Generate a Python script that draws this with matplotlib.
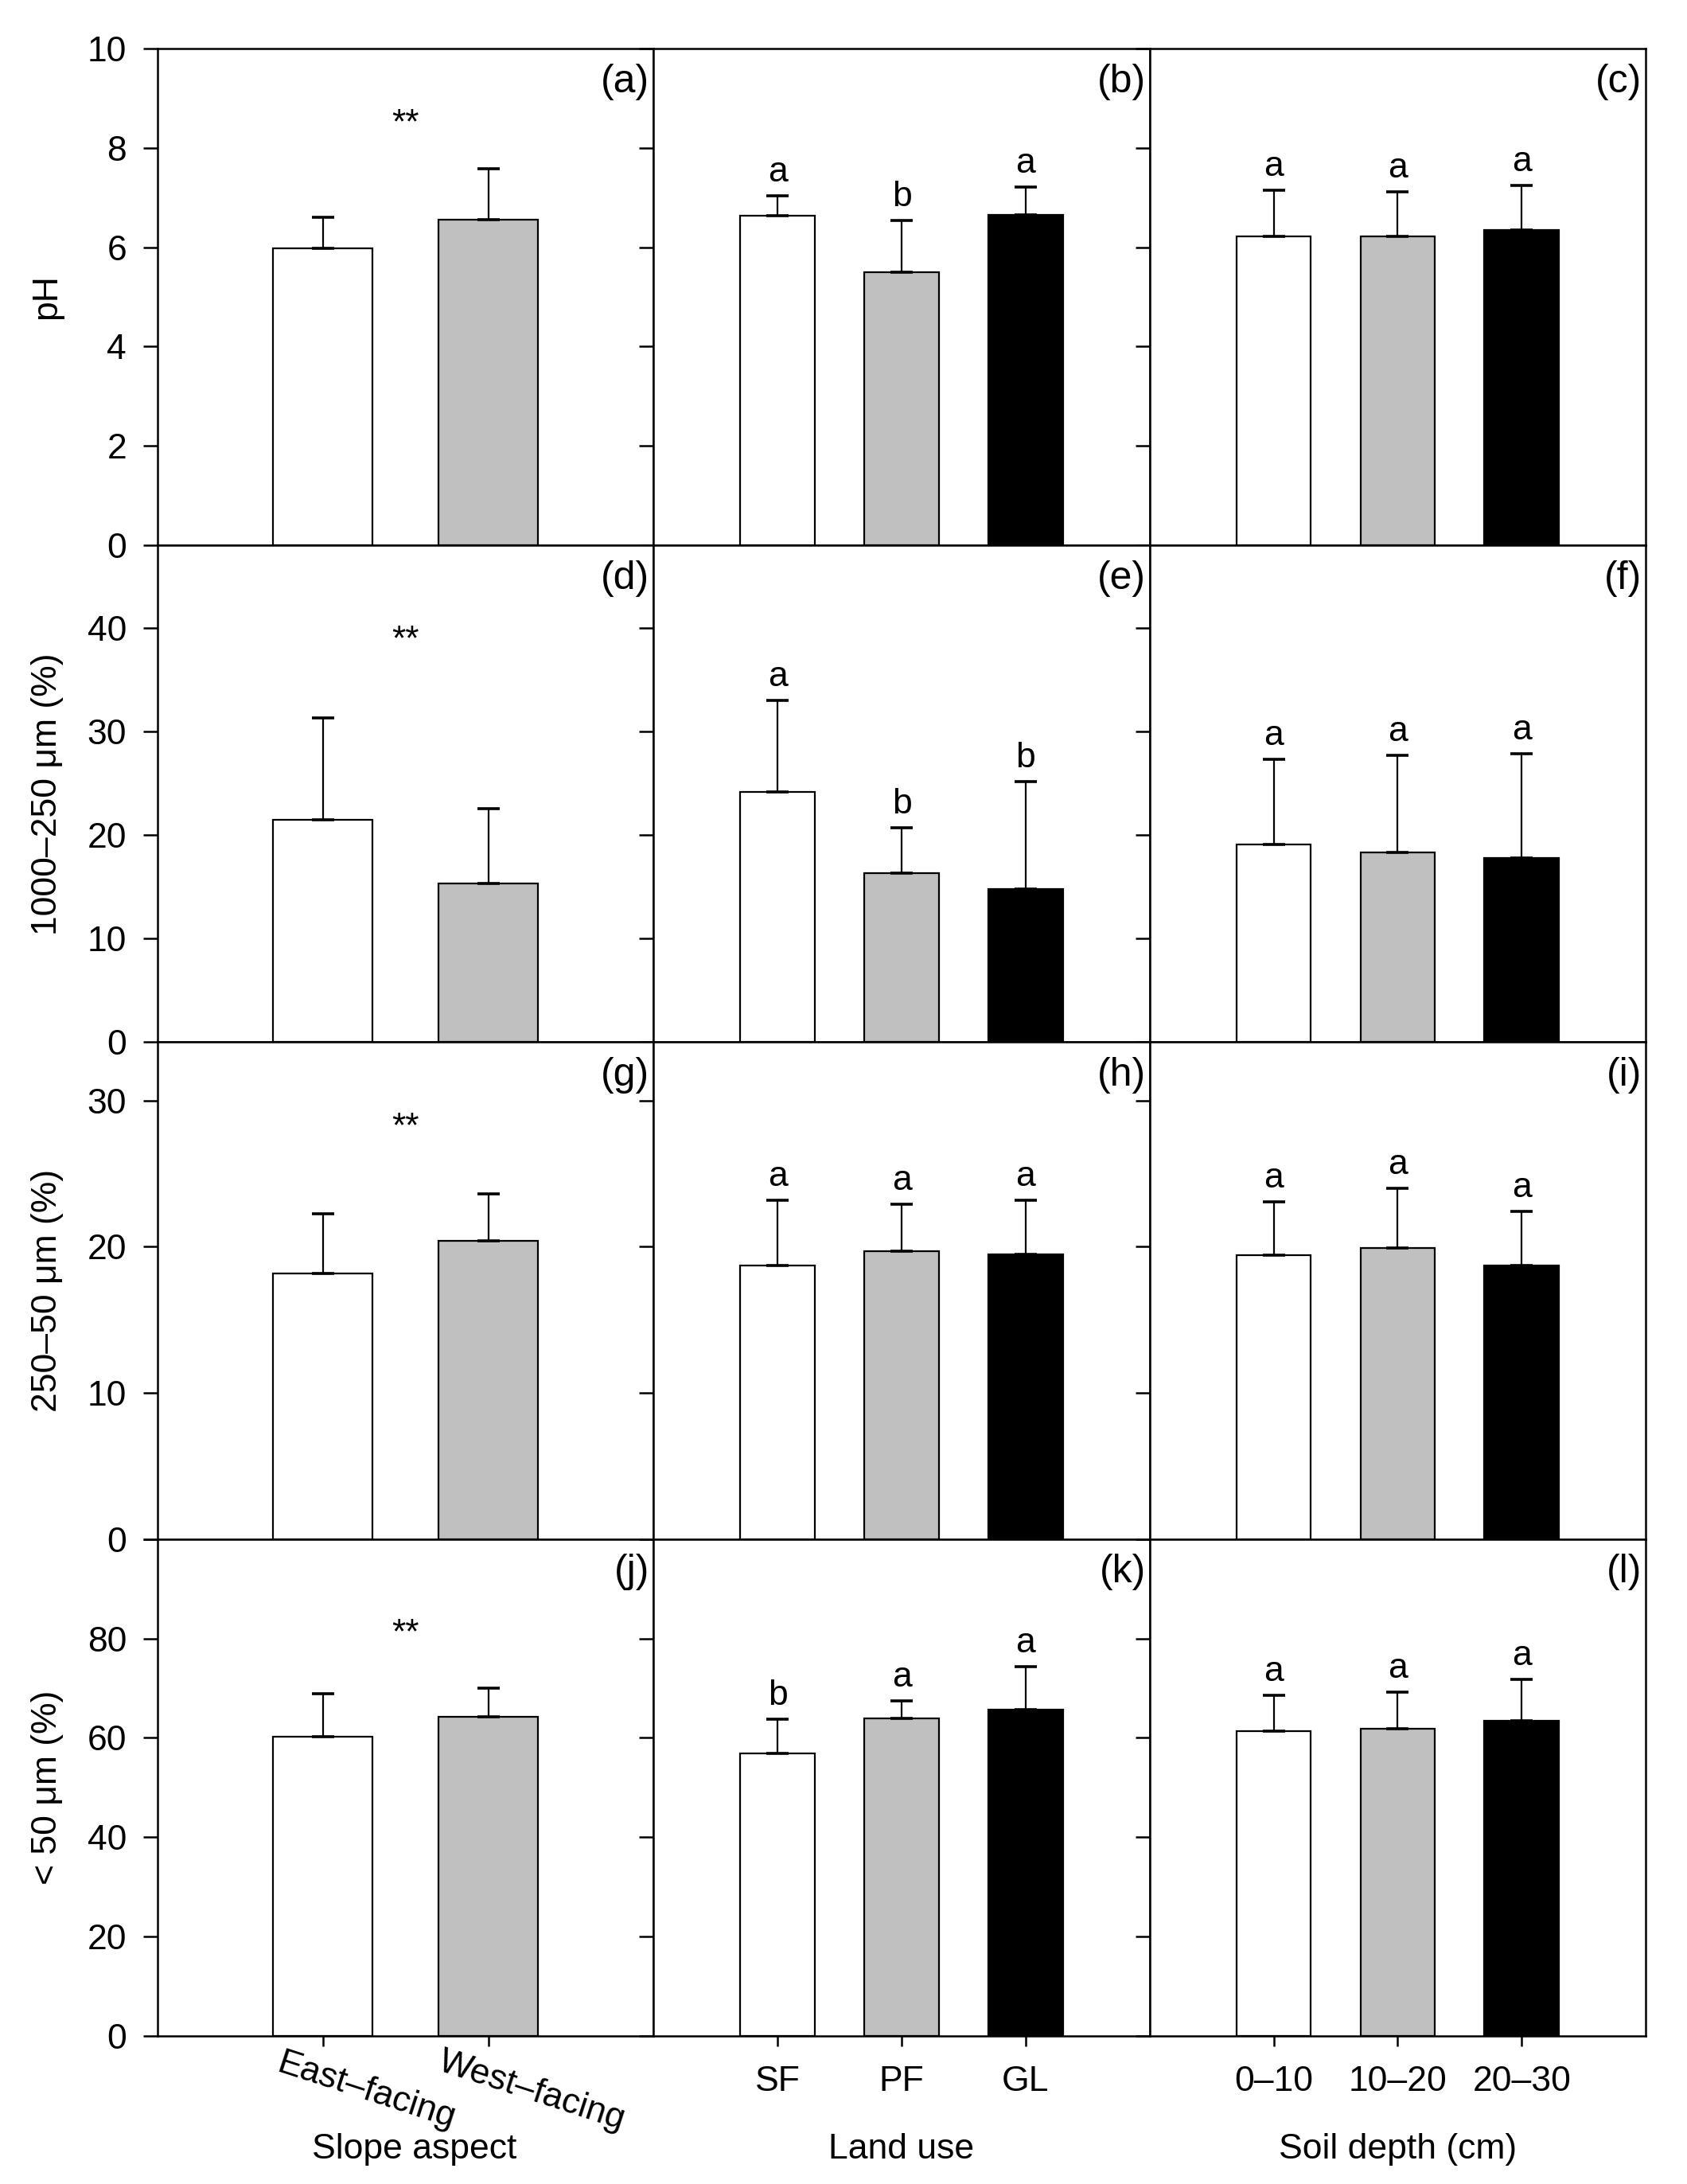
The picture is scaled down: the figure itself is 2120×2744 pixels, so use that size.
import matplotlib
matplotlib.use('Agg')
import matplotlib.pyplot as plt
from matplotlib.transforms import ScaledTranslation, blended_transform_factory
import numpy as np

plt.rcParams['font.family'] = ['Liberation Sans', 'DejaVu Sans']

# ---------------- data ----------------
SLOPE_CATS = ['East–facing', 'West–facing']
LANDUSE_CATS = ['SF', 'PF', 'GL']
DEPTH_CATS = ['0–10', '10–20', '20–30']

# pH
PH_SLOPE_MEAN = [5.97, 6.55]
PH_SLOPE_SD = [0.64, 1.03]
PH_LAND_MEAN = [6.63, 5.49, 6.65]
PH_LAND_SD = [0.41, 1.05, 0.56]
PH_LAND_SIG = ['a', 'b', 'a']
PH_DEPTH_MEAN = [6.22, 6.22, 6.34]
PH_DEPTH_SD = [0.93, 0.90, 0.91]
PH_DEPTH_SIG = ['a', 'a', 'a']

# 1000-250 um (%)
C_SLOPE_MEAN = [21.5, 15.3]
C_SLOPE_SD = [9.8, 7.3]
C_LAND_MEAN = [24.2, 16.3, 14.8]
C_LAND_SD = [8.8, 4.4, 10.4]
C_LAND_SIG = ['a', 'b', 'b']
C_DEPTH_MEAN = [19.1, 18.3, 17.8]
C_DEPTH_SD = [8.2, 9.4, 10.1]
C_DEPTH_SIG = ['a', 'a', 'a']

# 250-50 um (%)
M_SLOPE_MEAN = [18.2, 20.4]
M_SLOPE_SD = [4.05, 3.2]
M_LAND_MEAN = [18.7, 19.7, 19.5]
M_LAND_SD = [4.5, 3.2, 3.7]
M_LAND_SIG = ['a', 'a', 'a']
M_DEPTH_MEAN = [19.45, 19.9, 18.7]
M_DEPTH_SD = [3.6, 4.1, 3.7]
M_DEPTH_SIG = ['a', 'a', 'a']

# < 50 um (%)
F_SLOPE_MEAN = [60.2, 64.2]
F_SLOPE_SD = [8.7, 5.8]
F_LAND_MEAN = [56.9, 63.9, 65.7]
F_LAND_SD = [6.8, 3.5, 8.6]
F_LAND_SIG = ['b', 'a', 'a']
F_DEPTH_MEAN = [61.3, 61.8, 63.5]
F_DEPTH_SD = [7.3, 7.4, 8.3]
F_DEPTH_SIG = ['a', 'a', 'a']

Y_LABELS = ['pH', '1000–250 μm (%)', '250–50 μm (%)', '< 50 μm (%)']
X_LABELS = ['Slope aspect', 'Land use', 'Soil depth (cm)']
Y_TICKS = [[0, 2, 4, 6, 8, 10], [0, 10, 20, 30, 40], [0, 10, 20, 30],
           [0, 20, 40, 60, 80, 100]]
Y_TICKLABELS = [['0', '2', '4', '6', '8', '10'], ['0', '10', '20', '30', '40'],
                ['0', '10', '20', '30'], ['0', '20', '40', '60', '80', '']]
Y_MAX = [10, 48, 34, 100]
PANEL_TAGS = ['(a)', '(b)', '(c)', '(d)', '(e)', '(f)',
              '(g)', '(h)', '(i)', '(j)', '(k)', '(l)']

ROWS = [
    [(PH_SLOPE_MEAN, PH_SLOPE_SD, None), (PH_LAND_MEAN, PH_LAND_SD, PH_LAND_SIG),
     (PH_DEPTH_MEAN, PH_DEPTH_SD, PH_DEPTH_SIG)],
    [(C_SLOPE_MEAN, C_SLOPE_SD, None), (C_LAND_MEAN, C_LAND_SD, C_LAND_SIG),
     (C_DEPTH_MEAN, C_DEPTH_SD, C_DEPTH_SIG)],
    [(M_SLOPE_MEAN, M_SLOPE_SD, None), (M_LAND_MEAN, M_LAND_SD, M_LAND_SIG),
     (M_DEPTH_MEAN, M_DEPTH_SD, M_DEPTH_SIG)],
    [(F_SLOPE_MEAN, F_SLOPE_SD, None), (F_LAND_MEAN, F_LAND_SD, F_LAND_SIG),
     (F_DEPTH_MEAN, F_DEPTH_SD, F_DEPTH_SIG)],
]
CATS = [SLOPE_CATS, LANDUSE_CATS, DEPTH_CATS]

# ---------------- style ----------------
COLORS = ['white', '#c0c0c0', 'black']
FS = 16
STAR_FRAC = [0.83, 0.79, 0.81, 0.79]

fig = plt.figure(figsize=(10.6, 13.72), dpi=200)
axes = fig.subplots(4, 3, gridspec_kw=dict(left=0.0934, right=0.9755,
                                            top=0.9778, bottom=0.0678,
                                            hspace=0, wspace=0))

for r in range(4):
    for c in range(3):
        ax = axes[r, c]
        means, sds, sig = ROWS[r][c]
        n = len(means)
        x = np.arange(1, n + 1)
        ax.bar(x, means, width=0.6, color=COLORS[:n], edgecolor='black',
               linewidth=0.8, zorder=2)
        ax.errorbar(x, means, yerr=[np.zeros(n), sds], fmt='none',
                    ecolor='black', elinewidth=0.8, capsize=5, capthick=1.3,
                    zorder=3)
        ax.set_xlim(0, n + 1)
        ax.set_ylim(0, Y_MAX[r])
        ax.set_yticks(Y_TICKS[r])
        ax.set_yticklabels(Y_TICKLABELS[r])
        ax.tick_params(axis='y', direction='out', length=6.5, width=0.9,
                       labelsize=FS, pad=7.5)
        for sp in ax.spines.values():
            sp.set_linewidth(0.9)
        if c > 0:
            ax.tick_params(axis='y', labelleft=False)
        else:
            ax.set_ylabel(Y_LABELS[r], fontsize=FS, va='center')
            ax.yaxis.set_label_coords(-0.223, 0.5)

        if r < 3:
            ax.tick_params(axis='x', bottom=False, labelbottom=False)
        else:
            ax.set_xticks(x)
            ax.tick_params(axis='x', direction='out', length=4.5, width=0.9,
                           labelsize=FS, pad=9)
            if c == 0:
                ax.set_xticklabels([''] * n)
                off = ScaledTranslation(22 / 72, -18 / 72, fig.dpi_scale_trans)
                for xi, lab in zip(x, CATS[c]):
                    ax.text(xi, 0, lab, transform=ax.get_xaxis_transform() + off,
                            rotation=-18, rotation_mode='anchor', ha='center',
                            va='top', fontsize=FS)
            else:
                ax.set_xticklabels(CATS[c])
            ax.set_xlabel(X_LABELS[c], fontsize=FS, va='center')
            ax.xaxis.set_label_coords(0.517 if c == 0 else 0.5, -0.228)

        ax.text(0.992, 0.97, PANEL_TAGS[r * 3 + c], transform=ax.transAxes,
                ha='right', va='top', fontsize=18)

        if sig is None:
            tr = blended_transform_factory(ax.transData, ax.transAxes)
            ax.text(1.5, STAR_FRAC[r], '**', transform=tr, ha='center',
                    va='baseline', fontsize=FS)
        else:
            for xi, m, s, lt in zip(x, means, sds, sig):
                ax.annotate(lt, xy=(xi, m + s), xytext=(0, 6.5),
                            textcoords='offset points', ha='center',
                            va='baseline', fontsize=FS)

fig.savefig('out.png', dpi=200, facecolor='white')
